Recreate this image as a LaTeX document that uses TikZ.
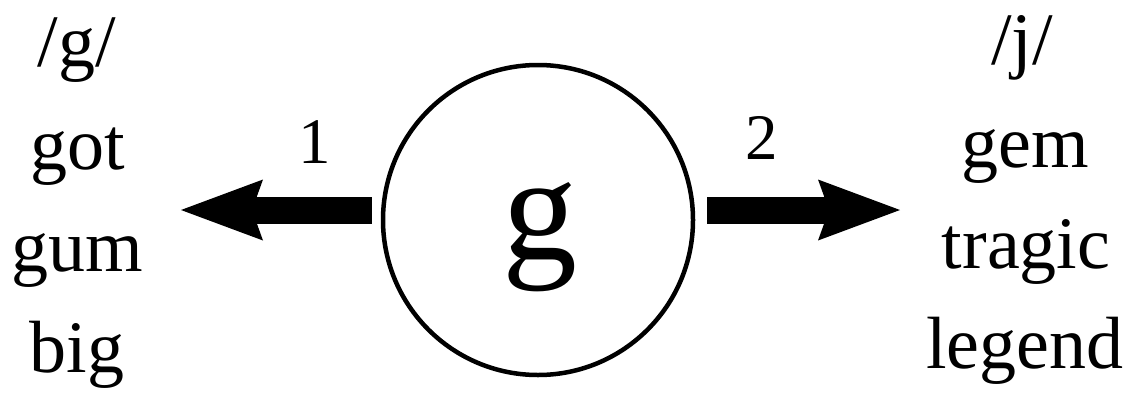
\documentclass[tikz,border=0pt]{standalone}
\usepackage{fontspec}
\setmainfont{Liberation Serif}
\usetikzlibrary{arrows.meta}
\tikzset{
  ring/.style   = {draw, circle, line width=4.5pt, minimum size=310pt, inner sep=0pt},
  word/.style   = {anchor=base, font=\fontsize{74}{80}\selectfont, inner sep=0pt},
  num/.style    = {font=\fontsize{65}{70}\selectfont, inner sep=0pt},
  letra/.style  = {font=\fontsize{150}{160}\selectfont, inner sep=0pt},
  flecha/.style = {line width=27pt,
                   -{Stealth[length=82pt, width=61pt, inset=11pt, line width=0pt]}},
}

\begin{document}
\begin{tikzpicture}[x=1pt, y=-1pt]
  \useasboundingbox (0,0) rectangle (1134,402);
  \node[ring] (ring) at (538,220) {};
  \node[letra] (gletter) at (540,237) {g};
  \coordinate (gtip) at (181,210);
  \coordinate (jtip) at (900,210);
  \draw[flecha, shorten <=9pt] (ring.west |- gtip) -- (gtip);
  \draw[flecha, shorten <=12pt] (ring.east |- jtip) -- (jtip);
  \node[num] (one) at (315,142) {1};
  \node[num] (two) at (762,138) {2};
  % hard /g/
  \node[word] (gsnd) at (77,66) {/g/};
  \node[word] (got) at (78,169) {got};
  \node[word] (gum) at (77,271) {gum};
  \node[word] (big) at (77,372) {big};
  % soft /j/
  \node[word] (jsnd) at (1022,64) {/j/};
  \node[word] (gem) at (1025,167) {gem};
  \node[word] (tragic) at (1026,268) {tragic};
  \node[word] (legend) at (1025,368) {legend};
\end{tikzpicture}
\end{document}
